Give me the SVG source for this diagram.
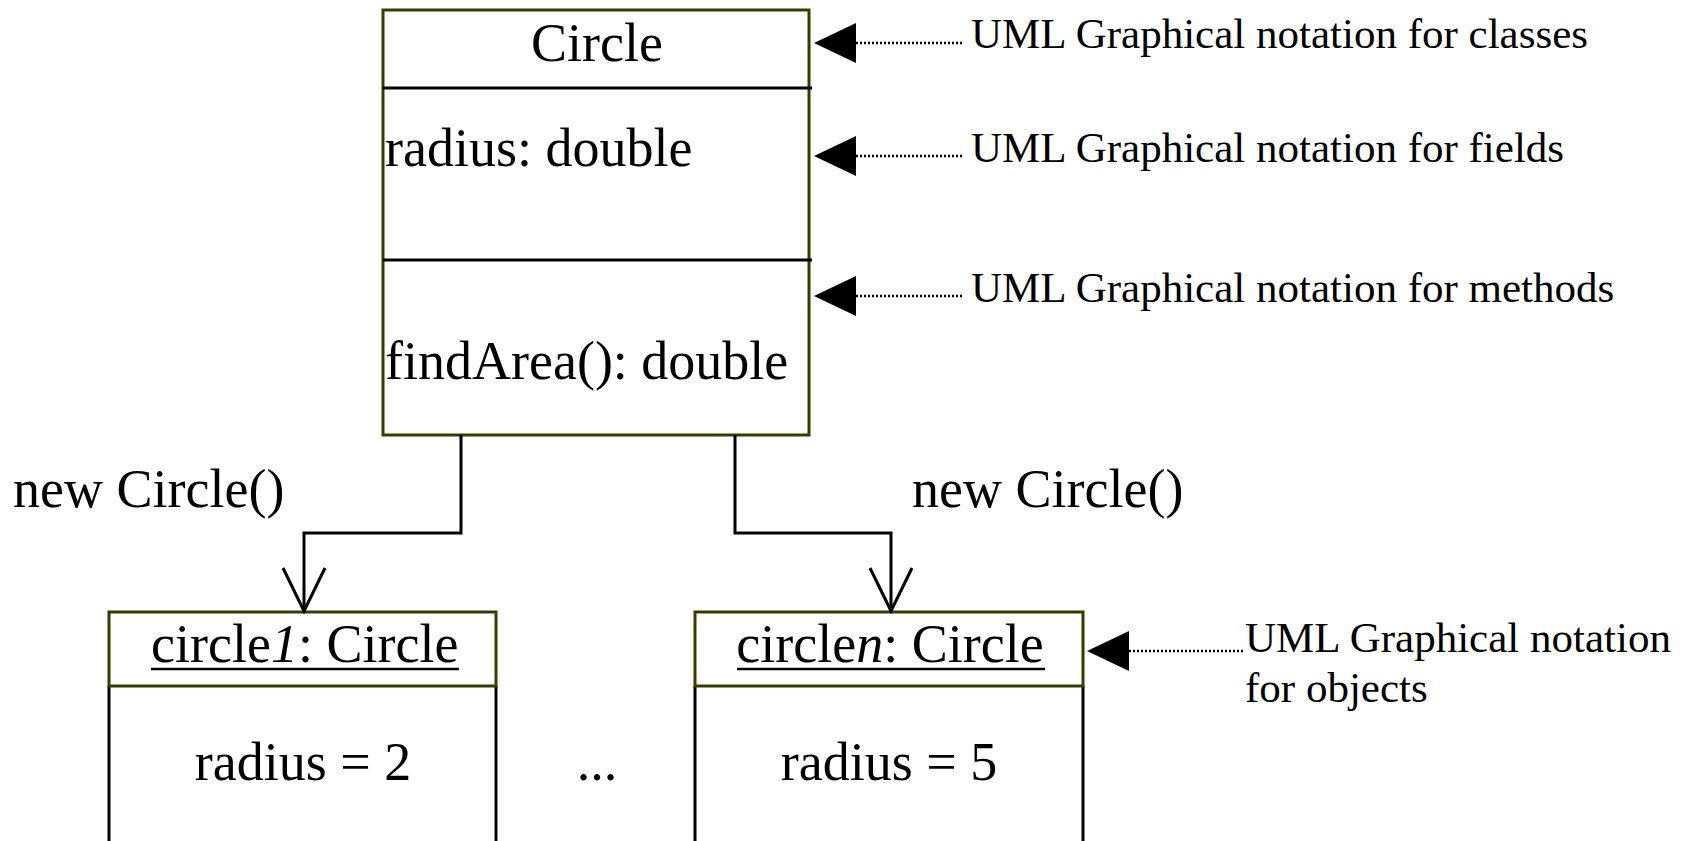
<svg xmlns="http://www.w3.org/2000/svg" width="1693" height="841" viewBox="0 0 1693 841">
<style>
  .t { font-family: "Liberation Serif", "Times New Roman", serif; fill: #000; }
  .big { font-size: 54px; }
  .ann { font-size: 43px; }
  .frame { fill: #fff; stroke: #3a3a00; stroke-width: 3; }
  .div { stroke: #000; stroke-width: 3; }
  .side { stroke: #000; stroke-width: 3; fill: none; }
  .conn { fill: none; stroke: #000; stroke-width: 3; }
  .dot { stroke: #000; stroke-width: 2.5; stroke-dasharray: 2 2; }
  .tri { fill: #000; }
</style>
<rect width="1693" height="841" fill="#fff"/>

<g id="class-circle">
  <rect class="frame" x="383" y="10" width="426" height="425"/>
  <line class="div" x1="383" y1="88" x2="812" y2="88"/>
  <line class="div" x1="383" y1="260" x2="812" y2="260"/>
  <text class="t big" x="597" y="61" text-anchor="middle">Circle</text>
  <text class="t big" x="385" y="166">radius: double</text>
  <text class="t big" x="385" y="379">findArea(): double</text>
</g>

<g id="object-circle1">
  <line class="side" x1="109" y1="686" x2="109" y2="845"/>
  <line class="side" x1="496" y1="686" x2="496" y2="845"/>
  <rect class="frame" x="109" y="612" width="387" height="74"/>
  <text class="t big" x="151" y="662">circle<tspan font-style="italic">1</tspan>: Circle</text>
  <line x1="151" y1="669" x2="459" y2="669" stroke="#000" stroke-width="2.5"/>
  <text class="t big" x="303" y="780" text-anchor="middle">radius = 2</text>
</g>

<g id="object-circlen">
  <line class="side" x1="695" y1="686" x2="695" y2="845"/>
  <line class="side" x1="1083" y1="686" x2="1083" y2="845"/>
  <rect class="frame" x="695" y="612" width="388" height="74"/>
  <text class="t big" x="890" y="662" text-anchor="middle">circle<tspan font-style="italic">n</tspan>: Circle</text>
  <line x1="737" y1="669" x2="1045" y2="669" stroke="#000" stroke-width="2.5"/>
  <text class="t big" x="889" y="780" text-anchor="middle">radius = 5</text>
</g>

<g id="ellipsis">
  <text class="t big" x="597" y="780" text-anchor="middle">...</text>
</g>

<g id="connectors">
  <polyline class="conn" points="461,435 461,533 304,533 304,611"/>
  <polyline class="conn" points="283,568 304,611 325,568"/>
  <text class="t big" x="13" y="507">new Circle()</text>

  <polyline class="conn" points="735,435 735,533 891,533 891,611"/>
  <polyline class="conn" points="870,568 891,611 912,568"/>
  <text class="t big" x="912" y="507">new Circle()</text>

  <polygon class="tri" points="814,43 856,23 856,63"/>
  <line class="dot" x1="856" y1="43" x2="963" y2="43"/>
  <polygon class="tri" points="814,156 856,136 856,176"/>
  <line class="dot" x1="856" y1="156" x2="963" y2="156"/>
  <polygon class="tri" points="814,296 856,276 856,316"/>
  <line class="dot" x1="856" y1="296" x2="963" y2="296"/>
  <polygon class="tri" points="1087,651 1129,631 1129,671"/>
  <line class="dot" x1="1129" y1="651" x2="1245" y2="651"/>
</g>

<g id="annotations">
  <text class="t ann" x="971" y="48">UML Graphical notation for classes</text>
  <text class="t ann" x="971" y="162">UML Graphical notation for fields</text>
  <text class="t ann" x="971" y="302">UML Graphical notation for methods</text>
  <text class="t ann" x="1245" y="652">UML Graphical notation</text>
  <text class="t ann" x="1245" y="702">for objects</text>
</g>
</svg>
